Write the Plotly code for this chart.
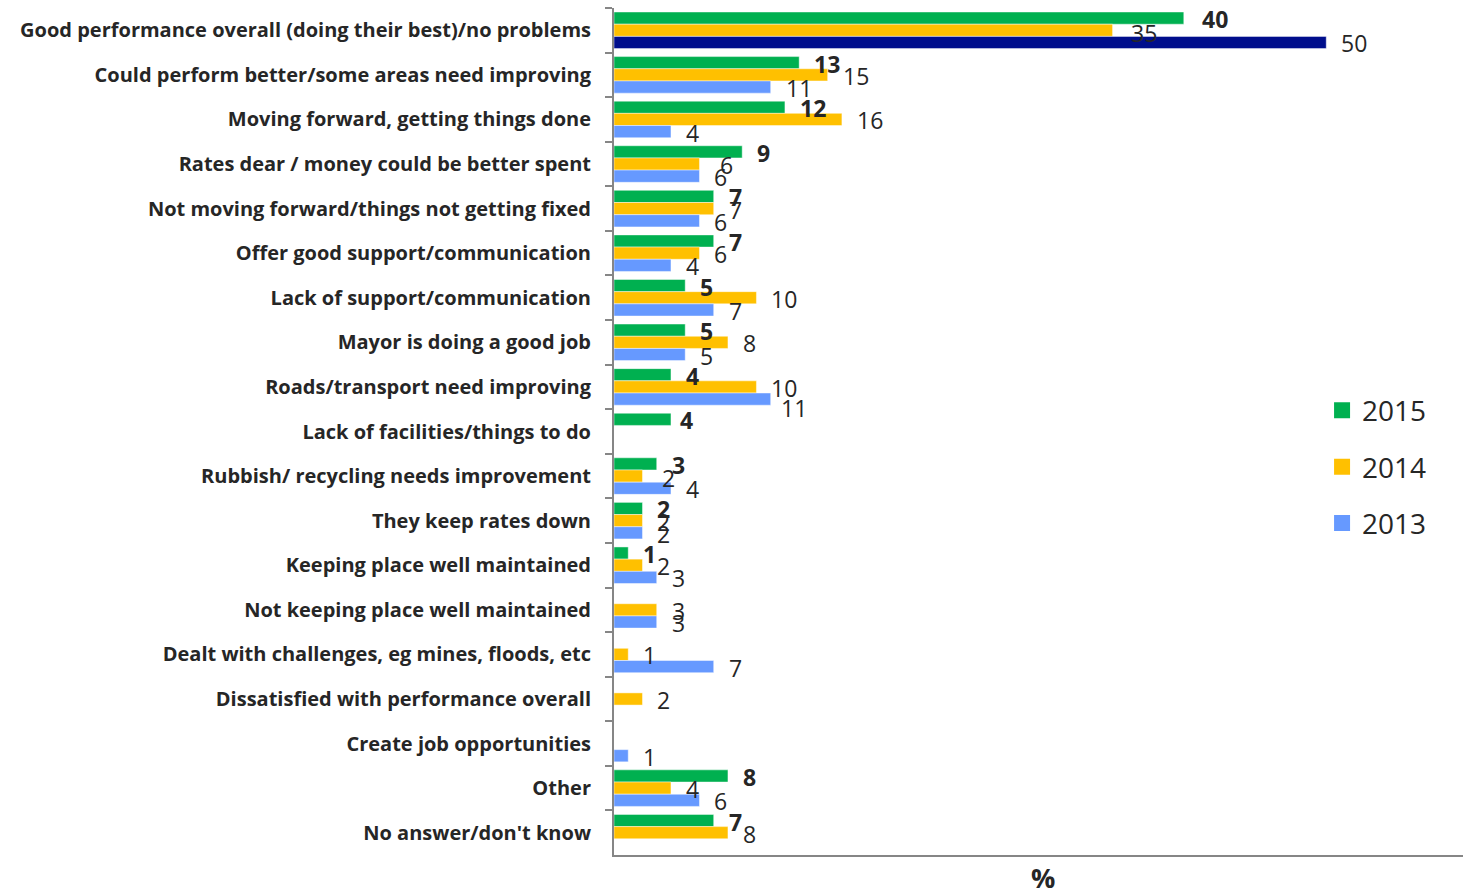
import plotly.graph_objects as go

# Survey responses (%), by year
categories = [
    "Good performance overall (doing their best)/no problems",
    "Could perform better/some areas need improving",
    "Moving forward, getting things done",
    "Rates dear / money could be better spent",
    "Not moving forward/things not getting fixed",
    "Offer good support/communication",
    "Lack of support/communication",
    "Mayor is doing a good job",
    "Roads/transport need improving",
    "Lack of facilities/things to do",
    "Rubbish/ recycling needs improvement",
    "They keep rates down",
    "Keeping place well maintained",
    "Not keeping place well maintained",
    "Dealt with challenges, eg mines, floods, etc",
    "Dissatisfied with performance overall",
    "Create job opportunities",
    "Other",
    "No answer/don't know",
]

years = ["2015", "2014", "2013"]

values_2015 = [40, 13, 12, 9, 7, 7, 5, 5, 4, 4, 3, 2, 1, None, None, None, None, 8, 7]
values_2014 = [35, 15, 16, 6, 7, 6, 10, 8, 10, None, 2, 2, 2, 3, 1, 2, None, 4, 8]
values_2013 = [50, 11, 4, 6, 6, 4, 7, 5, 11, None, 4, 2, 3, 3, 7, None, 1, 6, None]

x_title = "%"

series = [values_2015, values_2014, values_2013]
colors = ["#00B050", "#FFC000", "#6699FF"]
highlight_2013 = "#000E8C"  # first 2013 bar is emphasised

TEXT = "#262626"
AXIS = "#868686"
FONT = "Open Sans"
BARGAP = 0.18

# small pixel nudges for crowded value labels: (series index, row) -> (dx, dy)
label_nudge = {
    (2, 8): (-5, 8),
    (0, 9): (-6, 0),
    (1, 3): (6, 0),
    (0, 0): (3, 0),
    (1, 0): (3, 2),
    (1, 10): (5, 1),
}

fig = go.Figure()

for k, (year, vals, col) in enumerate(zip(years, series, colors)):
    bar_colors = [col] * len(vals)
    if year == "2013":
        bar_colors[0] = highlight_2013
    fig.add_trace(go.Bar(
        x=vals, y=categories, orientation="h", name=year,
        marker=dict(color=bar_colors, line=dict(color="rgba(255,255,255,0.45)", width=1)),
        showlegend=False, hoverinfo="x+name",
    ))
    # legend entry with a larger square swatch
    fig.add_trace(go.Scatter(
        x=[None], y=[None], mode="markers", name=year, legendgroup=year,
        marker=dict(symbol="square", size=18, color=col),
    ))

# value labels to the right of each bar
n_series = len(series)
bw = (1 - BARGAP) / n_series
for k, vals in enumerate(series):
    offset = -(1 - BARGAP) / 2 + (k + 0.5) * bw
    for i, v in enumerate(vals):
        if v is None:
            continue
        dx, dy = label_nudge.get((k, i), (0, 0))
        fig.add_annotation(
            x=v, y=i + offset, xref="x", yref="y",
            text=str(v), showarrow=False, xanchor="left", yanchor="middle",
            xshift=13 + dx, yshift=-1 - dy,
            font=dict(family=FONT, size=23, color=TEXT,
                      weight="bold" if k == 0 else "normal"),
        )

# x-axis title, placed just under the axis line
fig.add_annotation(
    x=0.5, y=0, xref="paper", yref="paper", text=x_title, showarrow=False,
    xanchor="center", yanchor="middle", xshift=4, yshift=-22,
    font=dict(family=FONT, size=27, color=TEXT, weight="bold"),
)

fig.update_layout(
    width=1463, height=896,
    margin=dict(l=614, r=0, t=8, b=41, autoexpand=False),
    paper_bgcolor="white", plot_bgcolor="white",
    barmode="group", bargap=BARGAP, bargroupgap=0,
    font=dict(family=FONT, color=TEXT),
    legend=dict(
        x=0.834, xanchor="left", y=0.458, yanchor="middle",
        font=dict(family=FONT, size=28, color=TEXT),
        tracegroupgap=17, bgcolor="rgba(0,0,0,0)",
    ),
)

fig.update_yaxes(
    type="category", range=[len(categories) - 0.5, -0.5],
    tickson="boundaries", ticks="outside", ticklen=7, tickwidth=2, tickcolor=AXIS,
    showline=True, linecolor=AXIS, linewidth=2, showgrid=False, zeroline=False,
    tickfont=dict(family=FONT, size=20, color=TEXT, weight="bold"),
    ticklabelstandoff=17, automargin=False,
)

fig.update_xaxes(
    range=[0, 59.6], showline=True, linecolor=AXIS, linewidth=2,
    showticklabels=False, ticks="", showgrid=False, zeroline=False,
    automargin=False,
)

fig.write_html("out.html")
